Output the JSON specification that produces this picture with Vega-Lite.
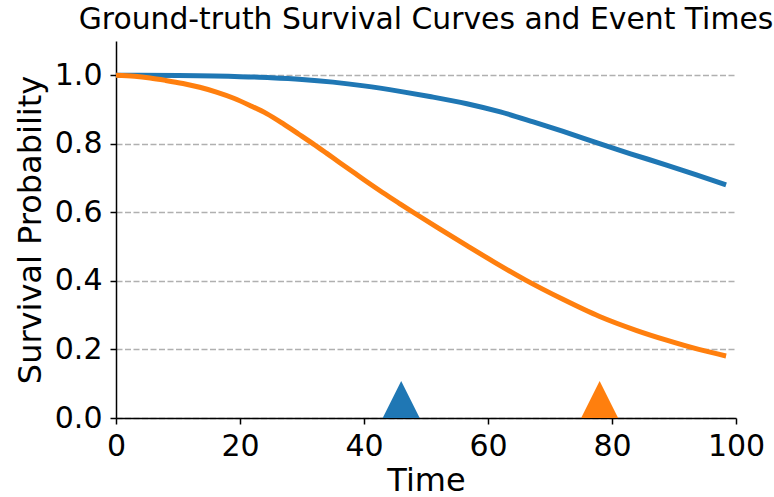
{
  "$schema": "https://vega.github.io/schema/vega-lite/v6.json",
  "autosize": {"type": "none"},
  "padding": {"left": 116, "top": 41, "right": 38, "bottom": 79},
  "width": 620,
  "height": 377,
  "background": "white",
  "config": {
    "font": "DejaVu Sans",
    "view": {"stroke": null},
    "axis": {
      "domainColor": "black",
      "domainWidth": 1.5,
      "tickColor": "black",
      "tickWidth": 1.5,
      "tickSize": 6,
      "labelColor": "black",
      "titleColor": "black",
      "labelFontSize": 30,
      "titleFontSize": 32,
      "titleFontWeight": "normal"
    }
  },
  "title": {
    "text": "Ground-truth Survival Curves and Event Times",
    "fontSize": 29.8,
    "fontWeight": "normal",
    "color": "black",
    "anchor": "middle",
    "frame": "group",
    "baseline": "bottom",
    "offset": 4.5,
    "dy": 28
  },
  "datasets": {
    "curves": [
      {"t": 0, "s": 1.0, "curve": "A"},
      {"t": 10, "s": 0.999, "curve": "A"},
      {"t": 20, "s": 0.996, "curve": "A"},
      {"t": 25, "s": 0.993, "curve": "A"},
      {"t": 30, "s": 0.988, "curve": "A"},
      {"t": 35, "s": 0.98, "curve": "A"},
      {"t": 40, "s": 0.969, "curve": "A"},
      {"t": 45.8, "s": 0.953, "curve": "A"},
      {"t": 50.6, "s": 0.938, "curve": "A"},
      {"t": 56.6, "s": 0.917, "curve": "A"},
      {"t": 62, "s": 0.893, "curve": "A"},
      {"t": 67.3, "s": 0.864, "curve": "A"},
      {"t": 72, "s": 0.837, "curve": "A"},
      {"t": 78.1, "s": 0.8, "curve": "A"},
      {"t": 83, "s": 0.771, "curve": "A"},
      {"t": 88.8, "s": 0.738, "curve": "A"},
      {"t": 93.5, "s": 0.71, "curve": "A"},
      {"t": 98.4, "s": 0.68, "curve": "A"},
      {"t": 0, "s": 1.0, "curve": "B"},
      {"t": 3, "s": 0.997, "curve": "B"},
      {"t": 5.5, "s": 0.992, "curve": "B"},
      {"t": 8, "s": 0.985, "curve": "B"},
      {"t": 10.8, "s": 0.976, "curve": "B"},
      {"t": 13.5, "s": 0.965, "curve": "B"},
      {"t": 16.2, "s": 0.951, "curve": "B"},
      {"t": 19, "s": 0.933, "curve": "B"},
      {"t": 21.6, "s": 0.912, "curve": "B"},
      {"t": 24.3, "s": 0.888, "curve": "B"},
      {"t": 27, "s": 0.858, "curve": "B"},
      {"t": 29.5, "s": 0.828, "curve": "B"},
      {"t": 31.8, "s": 0.8, "curve": "B"},
      {"t": 34, "s": 0.772, "curve": "B"},
      {"t": 36.1, "s": 0.745, "curve": "B"},
      {"t": 38.3, "s": 0.717, "curve": "B"},
      {"t": 40.4, "s": 0.69, "curve": "B"},
      {"t": 43, "s": 0.658, "curve": "B"},
      {"t": 45.8, "s": 0.625, "curve": "B"},
      {"t": 48.3, "s": 0.596, "curve": "B"},
      {"t": 52, "s": 0.554, "curve": "B"},
      {"t": 56.6, "s": 0.503, "curve": "B"},
      {"t": 61, "s": 0.455, "curve": "B"},
      {"t": 66, "s": 0.403, "curve": "B"},
      {"t": 72, "s": 0.347, "curve": "B"},
      {"t": 78, "s": 0.296, "curve": "B"},
      {"t": 84, "s": 0.255, "curve": "B"},
      {"t": 88.8, "s": 0.227, "curve": "B"},
      {"t": 94, "s": 0.2, "curve": "B"},
      {"t": 98.4, "s": 0.181, "curve": "B"}
    ],
    "events": [
      {"t": 46, "s": 0, "curve": "A"},
      {"t": 78, "s": 0, "curve": "B"}
    ]
  },
  "layer": [
    {
      "data": {"name": "curves"},
      "mark": {"type": "line", "strokeWidth": 5, "interpolate": "monotone", "clip": true},
      "encoding": {
        "x": {
          "field": "t", "type": "quantitative",
          "scale": {"domain": [0, 100], "nice": false, "zero": false},
          "axis": {"title": "Time", "values": [0, 20, 40, 60, 80, 100], "grid": false, "labelPadding": 7, "titlePadding": 4, "labelFlush": false}
        },
        "y": {
          "field": "s", "type": "quantitative",
          "scale": {"domain": [0, 1.1], "nice": false},
          "axis": {
            "title": "Survival Probability",
            "values": [0, 0.2, 0.4, 0.6, 0.8, 1.0],
            "format": ".1f",
            "grid": true,
            "gridColor": "#b0b0b0",
            "gridWidth": 1.3,
            "gridDash": [6, 2.5],
            "labelPadding": 8,
            "titlePadding": 7,
            "labelFlush": false
          }
        },
        "color": {
          "field": "curve", "type": "nominal",
          "scale": {"domain": ["A", "B"], "range": ["#1f77b4", "#ff7f0e"]},
          "legend": null
        },
        "detail": {"field": "curve"}
      }
    },
    {
      "data": {"name": "events"},
      "mark": {"type": "point", "shape": "M0,-1L-1,1L1,1Z", "filled": true, "opacity": 1, "size": 5476, "clip": true},
      "encoding": {
        "x": {"field": "t", "type": "quantitative"},
        "y": {"field": "s", "type": "quantitative"},
        "color": {"field": "curve", "type": "nominal", "legend": null}
      }
    }
  ]
}
